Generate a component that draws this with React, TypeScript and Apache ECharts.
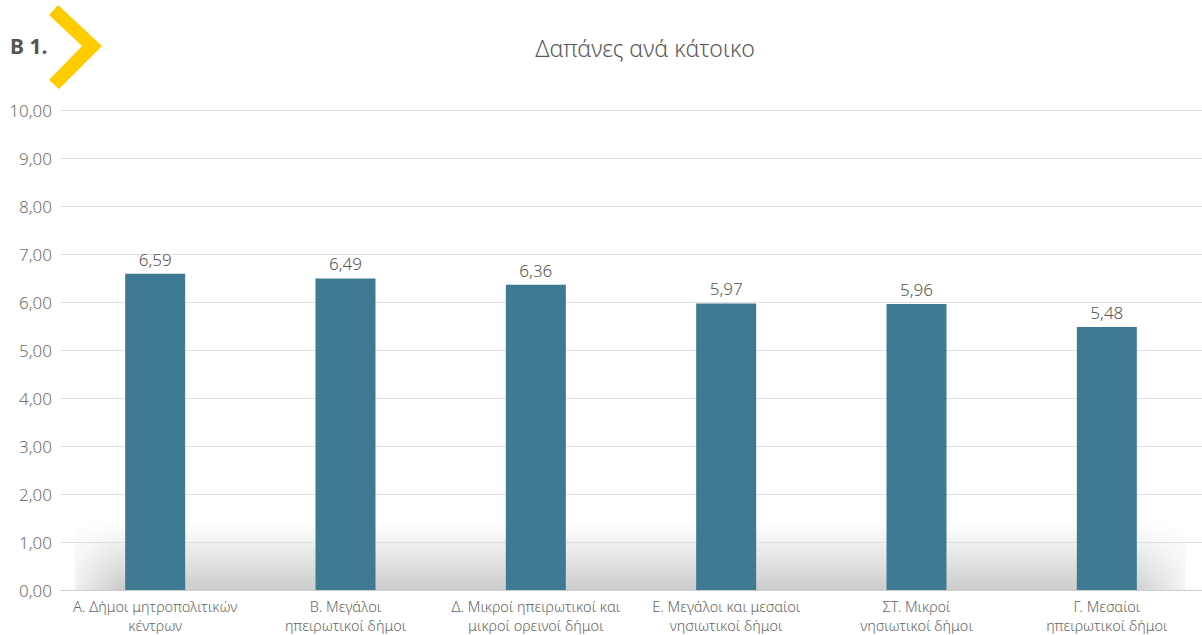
import React, { useEffect, useRef } from "react";
import * as echarts from "echarts";

const categories = [
  "Α. Δήμοι μητροπολιτικών\nκέντρων",
  "Β. Μεγάλοι\nηπειρωτικοί δήμοι",
  "Δ. Μικροί ηπειρωτικοί και\nμικροί ορεινοί δήμοι",
  "Ε. Μεγάλοι και μεσαίοι\nνησιωτικοί δήμοι",
  "ΣΤ. Μικροί\nνησιωτικοί δήμοι",
  "Γ. Μεσαίοι\nηπειρωτικοί δήμοι",
];
const values = [6.59, 6.49, 6.36, 5.97, 5.96, 5.48];
const title = "Δαπάνες ανά κάτοικο";
const badge = "Β 1.";

const FONT = "'Noto Sans', 'DejaVu Sans', sans-serif";
const fmt = (v: number) => v.toFixed(2).replace(".", ",");

export default function App() {
  const ref = useRef<HTMLDivElement>(null);
  useEffect(() => {
    if (!ref.current) return;
    const chart = echarts.init(ref.current, null, { renderer: "svg" });
    chart.setOption({
      animation: false,
      backgroundColor: "#ffffff",
      textStyle: { fontFamily: FONT },
      title: {
        text: title,
        left: 640,
        top: 31,
        textAlign: "center",
        textStyle: { fontFamily: FONT, fontSize: 23, fontWeight: 300, color: "#5a5a5a" },
      },
      grid: { left: 60, right: 0, top: 110, bottom: 45, containLabel: false },
      xAxis: {
        type: "category",
        data: categories,
        axisLine: { lineStyle: { color: "#cfcfcf" } },
        axisTick: { show: false },
        axisLabel: {
          interval: 0,
          margin: 6,
          fontSize: 14.5,
          lineHeight: 19,
          color: "#666666",
          fontFamily: FONT,
          fontWeight: 300,
        },
      },
      yAxis: {
        type: "value",
        min: 0,
        max: 10,
        interval: 1,
        axisLine: { show: false },
        axisTick: { show: false },
        splitLine: { lineStyle: { color: "#e0e0e0" } },
        axisLabel: {
          formatter: (v: number) => fmt(v),
          fontSize: 17,
          color: "#707070",
          margin: 8,
          fontFamily: FONT,
          fontWeight: 300,
        },
      },
      graphic: [
        {
          type: "rect",
          z: -10,
          shape: { x: 75, y: 523, width: 1110, height: 67 },
          style: {
            fill: new echarts.graphic.LinearGradient(0, 0, 0, 1, [
              { offset: 0, color: "rgba(0,0,0,0)" },
              { offset: 1, color: "rgba(0,0,0,0.2)" },
            ]),
          },
        },
        {
          type: "rect",
          z: -9,
          shape: { x: 58, y: 516, width: 60, height: 74 },
          style: {
            fill: new echarts.graphic.LinearGradient(0, 0, 1, 0, [
              { offset: 0, color: "rgba(255,255,255,1)" },
              { offset: 1, color: "rgba(255,255,255,0)" },
            ]),
          },
        },
        {
          type: "rect",
          z: -9,
          shape: { x: 1130, y: 516, width: 72, height: 74 },
          style: {
            fill: new echarts.graphic.LinearGradient(0, 0, 1, 0, [
              { offset: 0, color: "rgba(255,255,255,0)" },
              { offset: 1, color: "rgba(255,255,255,1)" },
            ]),
          },
        },
        {
          type: "polygon",
          shape: {
            points: [
              [58, 5],
              [102, 46],
              [59, 89],
              [49, 80],
              [82, 46],
              [49, 15],
            ],
          },
          style: { fill: "#ffcc00" },
        },
        {
          type: "text",
          x: 10,
          y: 35,
          style: {
            text: badge,
            fontSize: 21,
            fontWeight: "bold",
            fontFamily: FONT,
            fill: "#555555",
          },
        },
      ],
      series: [
        {
          type: "bar",
          data: values,
          barWidth: 60,
          itemStyle: { color: "#3e7b93" },
          label: {
            show: true,
            position: "top",
            distance: 6,
            formatter: (p: any) => fmt(p.value),
            fontSize: 17,
            color: "#555555",
            fontFamily: FONT,
            fontWeight: 300,
          },
        },
      ],
    });
    return () => chart.dispose();
  }, []);
  return (
    <div
      ref={ref}
      style={{ position: "fixed", left: 0, top: 0, width: 1202, height: 635 }}
    />
  );
}
